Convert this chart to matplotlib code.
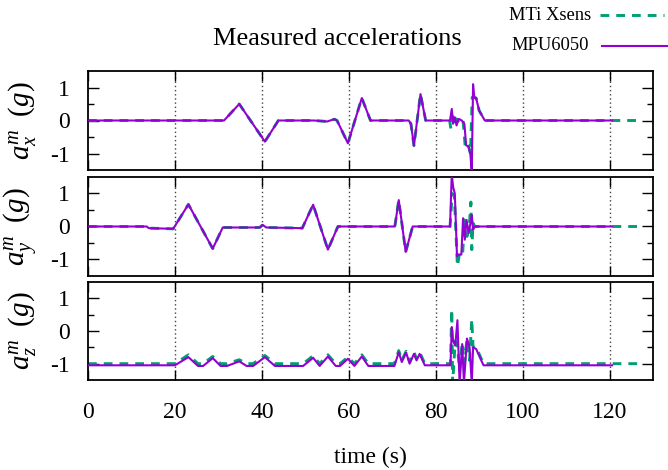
import matplotlib
matplotlib.use("Agg")
import matplotlib.pyplot as plt
from matplotlib.lines import Line2D
import numpy as np

plt.rcParams['font.family'] = ['Liberation Serif', 'DejaVu Serif']
plt.rcParams['mathtext.fontset'] = 'custom'
plt.rcParams['mathtext.rm'] = 'Liberation Serif'
plt.rcParams['mathtext.it'] = 'Liberation Serif:italic'
plt.rcParams['axes.unicode_minus'] = False

# ---------------- data ----------------
title = "Measured accelerations"
xlabel = "time (s)"
ylabels = [r"$a_x^m\;\ (g)$", r"$a_y^m\;\ (g)$", r"$a_z^m\;\ (g)$"]
series_names = ["MTi Xsens", "MPU6050"]
x_ticks = [0, 20, 40, 60, 80, 100, 120]
y_ticks = [-1, 0, 1]

# a_x
ax_t_mti = [0, 31.3, 34.8, 40.7, 43.8, 52.0, 55.0, 56.7, 57.3, 59.8, 63.0, 65.0, 73.8, 74.3, 75.0,
            76.5, 77.7, 83.2, 83.5, 83.8, 84.3, 84.8, 85.5, 86.3, 86.8, 87.4, 88.0, 88.4, 88.7,
            89.3, 90.0, 91.3, 127.0]
ax_v_mti = [0.0, 0.0, 0.5, -0.64, 0.0, 0.0, -0.03, 0.04, 0.0, -0.69, 0.68, 0.0, 0.0, -0.1, -0.76,
            0.8, 0.0, 0.0, -0.25, 0.15, -0.1, 0.05, -0.1, 0.0, -0.8, -0.7, -1.0, 0.7, 0.72,
            0.68, 0.3, 0.0, 0.0]
ax_t_mpu = [0, 31.3, 34.8, 40.7, 43.8, 52.0, 55.0, 56.7, 57.3, 59.8, 63.0, 65.0, 73.8, 74.3, 75.0,
            76.5, 77.7, 83.3, 83.7, 84.0, 84.4, 84.8, 85.3, 86.0, 86.6, 87.0, 87.6, 88.0, 88.3,
            88.6, 88.9, 89.3, 90.0, 91.3, 120.6]
ax_v_mpu = [0.0, 0.0, 0.5, -0.64, 0.0, 0.0, -0.03, 0.04, 0.0, -0.69, 0.68, 0.0, 0.0, -0.1, -0.76,
            0.8, 0.0, 0.0, 0.35, -0.1, 0.1, -0.15, 0.05, 0.0, -0.1, -0.75, -0.8, -1.05, -1.6,
            1.1, 0.68, 0.68, 0.3, 0.0, 0.0]

# a_y
ay_t_mti = [0, 13.5, 14.0, 19.6, 23.1, 28.7, 31.0, 39.5, 40.2, 41.0, 49.3, 51.8, 55.2, 57.5,
            70.6, 71.5, 73.1, 74.7, 83.3, 83.8, 84.3, 85.0, 85.5, 86.2, 86.6, 87.2, 87.8, 88.1,
            88.3, 88.6, 89.0, 127.0]
ay_v_mti = [0.0, 0.0, -0.05, -0.07, 0.67, -0.67, -0.03, -0.03, 0.05, -0.03, -0.05, 0.66, -0.7, 0.0,
            0.0, 0.8, -0.77, 0.0, 0.0, 1.0, 0.9, -1.2, -0.8, -0.85, 0.2, -0.3, 0.15, 0.74,
            -0.7, 0.1, 0.0, 0.0]
ay_t_mpu = [0, 13.5, 14.0, 19.6, 23.1, 28.7, 31.0, 39.5, 40.2, 41.0, 49.3, 51.8, 55.2, 57.5,
            70.6, 71.5, 73.1, 74.7, 83.3, 83.7, 84.0, 84.4, 84.9, 85.2, 85.9, 86.3, 86.7, 87.1,
            87.6, 88.0, 88.3, 88.6, 89.0, 120.6]
ay_v_mpu = [0.0, 0.0, -0.05, -0.07, 0.67, -0.67, -0.03, -0.03, 0.05, -0.03, -0.05, 0.66, -0.7, 0.0,
            0.0, 0.8, -0.77, 0.0, 0.0, 1.6, 1.2, 1.0, -0.9, -0.85, -0.85, 0.25, -0.4, 0.2,
            -0.2, 0.1, 0.35, -0.1, 0.0, 0.0]

# a_z
az_t_mti = [0, 20.0, 23.1, 25.3, 26.5, 28.7, 30.5, 32.0, 34.8, 36.5, 38.0, 40.7, 43.0, 49.5, 51.8,
            53.3, 55.2, 57.0, 58.0, 59.8, 61.3, 63.0, 64.5, 70.5, 71.5, 72.2, 73.2, 74.0, 75.0,
            75.6, 76.3, 77.5, 83.4, 83.7, 83.9, 84.5, 85.0, 85.5, 86.1, 86.6, 87.2, 87.8, 88.3,
            88.6, 89.3, 91.0, 127.0]
az_v_mti = [-1.0, -1.0, -0.73, -1.0, -1.0, -0.78, -1.0, -1.0, -0.88, -1.0, -1.0, -0.75, -1.0, -1.0,
            -0.76, -1.0, -0.73, -1.0, -1.0, -0.8, -1.0, -0.73, -1.0, -1.0, -0.6, -0.9, -0.62,
            -0.95, -0.65, -0.85, -0.65, -1.0, -1.0, 0.66, -1.6, -0.3, -0.45, -1.2, -0.35, -1.0,
            -0.25, -0.9, 0.36, -0.5, -0.5, -1.0, -1.0]
az_t_mpu = [0, 20.0, 23.1, 25.3, 26.5, 28.7, 30.5, 32.0, 34.8, 36.5, 38.0, 40.7, 43.0, 49.5, 51.8,
            53.3, 55.2, 57.0, 58.0, 59.8, 61.3, 63.0, 64.5, 70.5, 71.5, 72.2, 73.2, 74.0, 75.0,
            75.6, 76.3, 77.5, 83.4, 83.7, 84.0, 84.5, 85.0, 85.5, 86.1, 86.5, 87.2, 87.8, 88.3,
            88.6, 89.3, 91.0, 120.6]
az_v_mpu = [-1.05, -1.05, -0.8, -1.07, -1.07, -0.83, -1.07, -1.07, -0.93, -1.07, -1.07, -0.8, -1.07,
            -1.07, -0.82, -1.07, -0.78, -1.07, -1.07, -0.85, -1.07, -0.78, -1.07, -1.07, -0.65,
            -0.95, -0.66, -1.0, -0.7, -0.9, -0.7, -1.05, -1.05, 0.12, -0.3, -0.45, 0.33, -1.6,
            -0.4, -1.6, -0.23, -0.5, -1.6, -0.5, -0.55, -1.05, -1.05]

panels = [
    (ax_t_mti, ax_v_mti, ax_t_mpu, ax_v_mpu),
    (ay_t_mti, ay_v_mti, ay_t_mpu, ay_v_mpu),
    (az_t_mti, az_v_mti, az_t_mpu, az_v_mpu),
]

green = "#009e73"
purple = "#9400d3"

# ---------------- figure ----------------
W, H = 668, 470
fig = plt.figure(figsize=(W / 100, H / 100), dpi=100)

left, right = 88 / W, 653 / W
boxes = [(71, 170), (177, 276), (282, 380)]
tick_fs = 17

for i, (top_px, bot_px) in enumerate(boxes):
    ax = fig.add_axes([left, 1 - bot_px / H, right - left, (bot_px - top_px) / H])
    tg, vg, tp, vp = panels[i]
    ax.plot(tg, vg, color=green, lw=2.1, dashes=(3, 2.4), solid_capstyle='butt', zorder=2)
    ax.plot(tp, vp, color=purple, lw=1.5, zorder=3)
    ax.set_xlim(0, 130)
    ax.set_ylim(-1.5, 1.5)
    ax.set_xticks(x_ticks)
    ax.set_yticks(y_ticks)
    ax.set_yticks([-0.5, 0.5], minor=True)
    ax.set_yticklabels([str(v) for v in y_ticks], fontsize=tick_fs)
    ax.tick_params(axis='both', which='both', direction='in', top=True, right=True,
                   width=1.0, color='black')
    ax.tick_params(axis='y', which='major', length=8, pad=13)
    ax.tick_params(axis='y', which='minor', length=4)
    ax.tick_params(axis='x', which='major', length=7, pad=16, labelsize=tick_fs)
    for sp in ax.spines.values():
        sp.set_linewidth(1.3)
    for x in x_ticks[1:]:
        ax.axvline(x, color='#444444', lw=1.0, ls=(0, (1, 2)), zorder=1)
    ax.set_ylabel(ylabels[i], fontsize=21)
    ax.yaxis.set_label_coords(-0.086, 0.5)
    if i < 2:
        ax.tick_params(axis='x', labelbottom=False)
    else:
        ax.set_xlabel(xlabel, fontsize=tick_fs, labelpad=17)

fig.text(337 / W, 1 - 39 / H, title, fontsize=19, ha='center', va='center')

# legend (gnuplot style: text then sample)
fig.text(591 / W, 1 - 15 / H, series_names[0], fontsize=13.3, ha='right', va='center')
fig.text(589 / W, 1 - 46 / H, series_names[1], fontsize=13.3, ha='right', va='center')
fig.add_artist(Line2D([600 / W, 664 / W], [1 - 15 / H, 1 - 15 / H], color=green, lw=2.1,
                      dashes=(3, 2.4), transform=fig.transFigure))
fig.add_artist(Line2D([602 / W, 668 / W], [1 - 46 / H, 1 - 46 / H], color=purple, lw=1.5,
                      transform=fig.transFigure))

fig.savefig("out.png", dpi=100)
